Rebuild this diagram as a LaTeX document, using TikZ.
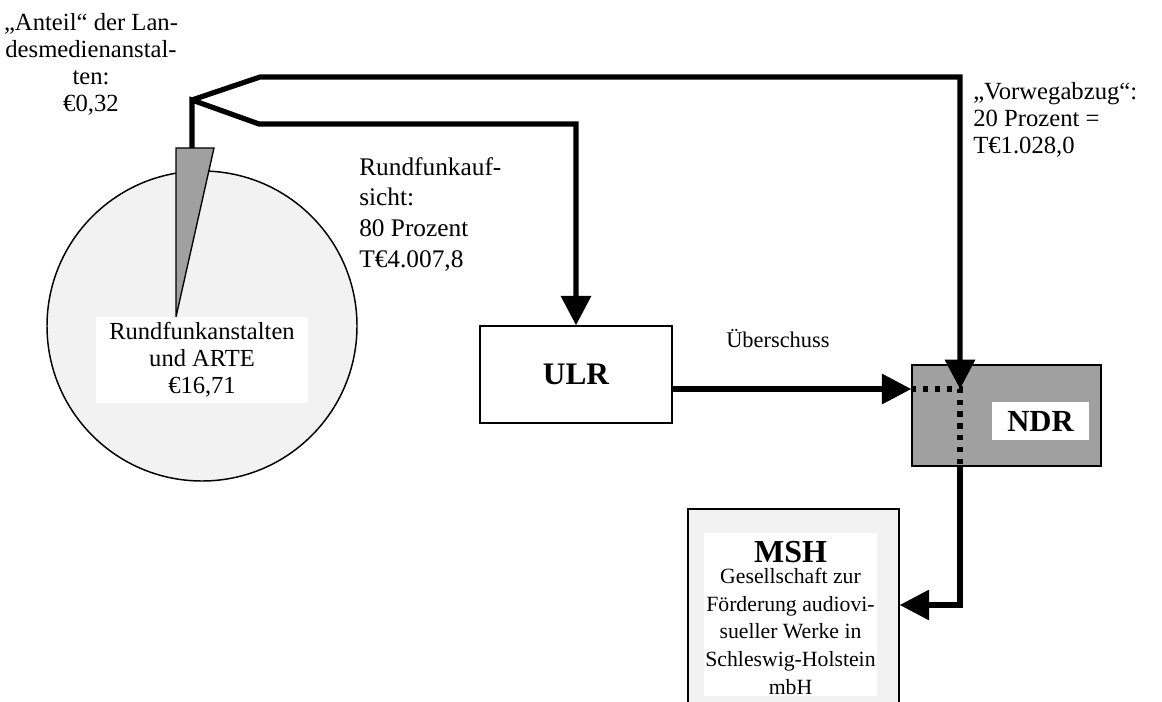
\documentclass[tikz,border=0pt]{standalone}
\usepackage{fontspec}
\setmainfont{Liberation Serif}
\usetikzlibrary{arrows.meta}
\definecolor{pielight}{HTML}{F2F2F2}
\definecolor{midgray}{HTML}{A0A0A0}
\begin{document}
\begin{tikzpicture}[x=0.75pt,y=-0.75pt,
  thinborder/.style={draw=black,line width=1.1pt},
  flowline/.style={line width=3.9pt,line join=miter,-{Triangle[width=22pt,length=22pt]}},
  dotline/.style={line width=3.9pt,dash pattern=on 3.9pt off 5pt},
  maintext/.style={inner sep=0pt,font=\fontsize{18.5}{20.25}\selectfont},
  whitelabel/.style={fill=white,inner sep=0pt,align=center}
]
\useasboundingbox (0,0) rectangle (1162,702);
\clip (0,0) rectangle (1162,702);
\fill[white] (0,0) rectangle (1162,702);

% pie
\node[circle,thinborder,fill=pielight,minimum size=232.5pt,inner sep=0pt] (pie) at (202,326) {};
\filldraw[fill=midgray,draw=black,line width=1pt,line join=miter] (176,148) -- (214,148) -- (176,317) -- cycle;
\node[whitelabel,minimum width=159pt,minimum height=64.5pt,font=\fontsize{18.4}{20.25}\selectfont] (pielabel) at (202,360)
  {Rundfunkanstalten\\und ARTE\\€16,71};

% boxes
\node[rectangle,thinborder,fill=white,minimum width=144pt,minimum height=72.75pt,inner sep=0pt,
      font=\fontsize{23.5}{26}\selectfont\bfseries] (ULR) at (576,374.5) {ULR};
\node[rectangle,thinborder,fill=midgray,minimum width=141.75pt,minimum height=75.75pt,inner sep=0pt] (NDR) at (1006.5,415.5) {};
\node[whitelabel,minimum width=72.75pt,minimum height=28.5pt,font=\fontsize{23}{26}\selectfont\bfseries] (ndrlabel) at (1040.5,421) {NDR};
\node[rectangle,thinborder,fill=pielight,minimum width=158.25pt,minimum height=165.75pt,inner sep=0pt] (MSH) at (793.5,619.5) {};
\node[fill=white,inner sep=0pt,minimum width=129.75pt,minimum height=122.25pt] (mshlabel) at (790.5,614.5) {};
\node[inner sep=0pt,align=center,anchor=north,font=\fontsize{16.3}{20.8}\selectfont] (mshtext) at (790.5,541)
  {{\fontsize{24}{26}\selectfont\bfseries MSH}\\[-5pt]Gesellschaft zur\\Förderung audiovi-\\sueller Werke in\\Schleswig-Holstein\\mbH};

% texts
\node[maintext,anchor=north,align=center] (anteil) at (91,13.6)
  {„Anteil“ der Lan-\\desmedienanstal-\\ten:\\€0,32};
\node[maintext,anchor=north west,align=left,font=\fontsize{19}{23}\selectfont] (aufsicht) at (359,157)
  {Rundfunkauf-\\sicht:\\80 Prozent\\T€4.007,8};
\node[maintext,anchor=north west,align=left,font=\fontsize{18.5}{20.25}\selectfont] (vorweg) at (973,82)
  {„Vorwegabzug“:\\20 Prozent =\\T€1.028,0};
\node[inner sep=0pt,anchor=base west,font=\fontsize{16.8}{20}\selectfont] (ueber) at (726,347) {Überschuss};

% connectors
\coordinate (wtop) at (192,148);
\coordinate (junc) at (192,100);
\coordinate (lowbend) at (259,124);
\coordinate (upbend) at (260,77);
\coordinate (ulrcorner) at (576,124);
\coordinate (ndrcorner) at (960,77);
\coordinate (ndrin) at (960,389);
\coordinate (mshcorner) at (960,605);

\draw[flowline] (wtop) -- (junc) -- (lowbend) -- (ulrcorner) -- (ULR.north);
\draw[flowline] (junc) -- (upbend) -- (ndrcorner) -- (ndrin);
\draw[flowline] (ULR.east |- ndrin) -- (NDR.west |- ndrin);
\draw[dotline] (NDR.west |- ndrin) -- (ndrin) -- (ndrin |- NDR.south);
\draw[flowline] (ndrin |- NDR.south) -- (mshcorner) -- (MSH.east |- mshcorner);
\end{tikzpicture}
\end{document}
